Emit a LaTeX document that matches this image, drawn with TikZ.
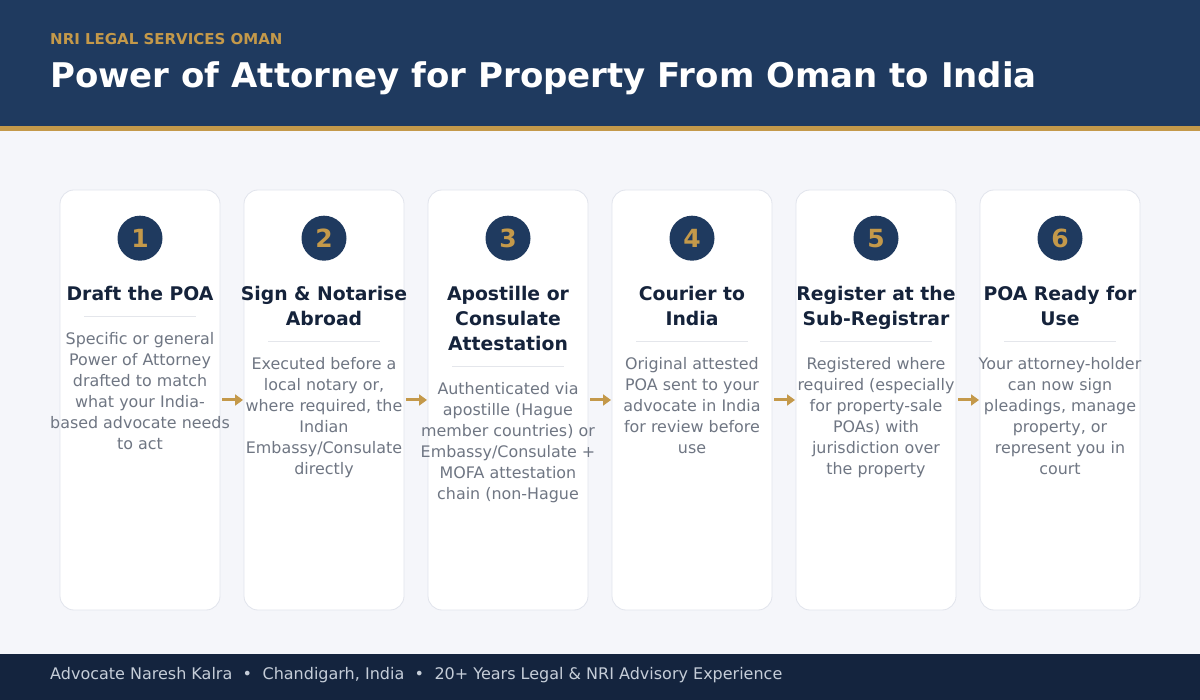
\documentclass[tikz,border=0pt]{standalone}
\usepackage{fontspec}
\setmainfont{DejaVu Sans}
\usepackage{tikz}
\usetikzlibrary{positioning, arrows.meta}

\definecolor{navy}{HTML}{1F3A5F}
\definecolor{navydark}{HTML}{14243E}
\definecolor{gold}{HTML}{C4994A}
\definecolor{pagebg}{HTML}{F5F6FA}
\definecolor{cardline}{HTML}{E1E4EC}
\definecolor{headtext}{HTML}{15233B}
\definecolor{bodytext}{HTML}{6F7683}
\definecolor{foottext}{HTML}{C5CDD8}
\definecolor{rulegray}{HTML}{E4E6EB}

\begin{document}
\begin{tikzpicture}[x=1pt, y=-1pt,
    card/.style={draw=cardline, line width=0.8pt, fill=white, rounded corners=14pt,
        minimum width=160pt, minimum height=420pt, inner sep=0pt, outer sep=0pt},
    badge/.style={circle, fill=navy, text=gold, minimum size=45pt, inner sep=0pt,
        font=\bfseries\fontsize{25}{25}\selectfont},
    head/.style={align=center, inner sep=0pt, text=headtext,
        font=\bfseries\fontsize{18.8}{25}\selectfont},
    body/.style={align=center, inner sep=0pt, text=bodytext,
        font=\fontsize{15.9}{21}\selectfont},
    rule/.style={draw=rulegray, line width=0.8pt},
    flow/.style={draw=gold, line width=3pt, -{Triangle[length=8pt, width=11pt]},
        shorten <=2pt, shorten >=1pt}]

    % page, header band and footer band
    \fill[pagebg] (0,0) rectangle (1200,700);
    \fill[navy] (0,0) rectangle (1200,126);
    \fill[gold] (0,126) rectangle (1200,131);
    \fill[navydark] (0,654) rectangle (1200,700);

    \node[anchor=base west, inner sep=0pt, text=gold,
        font=\bfseries\fontsize{15}{15}\selectfont] (brand) at (50,44.5) {NRI LEGAL SERVICES OMAN};
    \node[anchor=base west, inner sep=0pt, text=white,
        font=\bfseries\fontsize{34}{34}\selectfont] (title) at (50,88) {Power of Attorney for Property From Oman to India};

    % cards
    \node[card] (c1) at (140,400) {};
    \node[card, right=24pt of c1] (c2) {};
    \node[card, right=24pt of c2] (c3) {};
    \node[card, right=24pt of c3] (c4) {};
    \node[card, right=24pt of c4] (c5) {};
    \node[card, right=24pt of c5] (c6) {};

    % step 1
    \node[badge, below=25.5pt of c1.north] (n1) {1};
    \node[head, below=93pt of c1.north] (h1) {\strut Draft the POA\strut};
    \coordinate[below=8pt of h1] (s1);
    \draw[rule] ([xshift=-56pt]s1) -- ([xshift=56pt]s1);
    \node[body, below=13.5pt of s1] (b1) {\strut Specific or general\\Power of Attorney\\drafted to match\\what your India-\\based advocate needs\\to act\strut};

    % step 2
    \node[badge, below=25.5pt of c2.north] (n2) {2};
    \node[head, below=93pt of c2.north] (h2) {\strut Sign \& Notarise\\Abroad\strut};
    \coordinate[below=8pt of h2] (s2);
    \draw[rule] ([xshift=-56pt]s2) -- ([xshift=56pt]s2);
    \node[body, below=13.5pt of s2] (b2) {\strut Executed before a\\local notary or,\\where required, the\\Indian\\Embassy/Consulate\\directly\strut};

    % step 3
    \node[badge, below=25.5pt of c3.north] (n3) {3};
    \node[head, below=93pt of c3.north] (h3) {\strut Apostille or\\Consulate\\Attestation\strut};
    \coordinate[below=8pt of h3] (s3);
    \draw[rule] ([xshift=-56pt]s3) -- ([xshift=56pt]s3);
    \node[body, below=13.5pt of s3] (b3) {\strut Authenticated via\\apostille (Hague\\member countries) or\\Embassy/Consulate +\\MOFA attestation\\chain (non-Hague\strut};

    % step 4
    \node[badge, below=25.5pt of c4.north] (n4) {4};
    \node[head, below=93pt of c4.north] (h4) {\strut Courier to\\India\strut};
    \coordinate[below=8pt of h4] (s4);
    \draw[rule] ([xshift=-56pt]s4) -- ([xshift=56pt]s4);
    \node[body, below=13.5pt of s4] (b4) {\strut Original attested\\POA sent to your\\advocate in India\\for review before\\use\strut};

    % step 5
    \node[badge, below=25.5pt of c5.north] (n5) {5};
    \node[head, below=93pt of c5.north] (h5) {\strut Register at the\\Sub-Registrar\strut};
    \coordinate[below=8pt of h5] (s5);
    \draw[rule] ([xshift=-56pt]s5) -- ([xshift=56pt]s5);
    \node[body, below=13.5pt of s5] (b5) {\strut Registered where\\required (especially\\for property-sale\\POAs) with\\jurisdiction over\\the property\strut};

    % step 6
    \node[badge, below=25.5pt of c6.north] (n6) {6};
    \node[head, below=93pt of c6.north] (h6) {\strut POA Ready for\\Use\strut};
    \coordinate[below=8pt of h6] (s6);
    \draw[rule] ([xshift=-56pt]s6) -- ([xshift=56pt]s6);
    \node[body, below=13.5pt of s6] (b6) {\strut Your attorney-holder\\can now sign\\pleadings, manage\\property, or\\represent you in\\court\strut};

    % arrows between the cards
    \draw[flow] (c1) -- (c2);
    \draw[flow] (c2) -- (c3);
    \draw[flow] (c3) -- (c4);
    \draw[flow] (c4) -- (c5);
    \draw[flow] (c5) -- (c6);

    \node[anchor=base west, inner sep=0pt, text=foottext,
        font=\fontsize{16}{16}\selectfont] (footer) at (50,679.5)
        {Advocate Naresh Kalra\hspace{0.65em}•\hspace{0.65em}Chandigarh, India\hspace{0.65em}•\hspace{0.65em}20+ Years Legal \& NRI Advisory Experience};
\end{tikzpicture}
\end{document}
